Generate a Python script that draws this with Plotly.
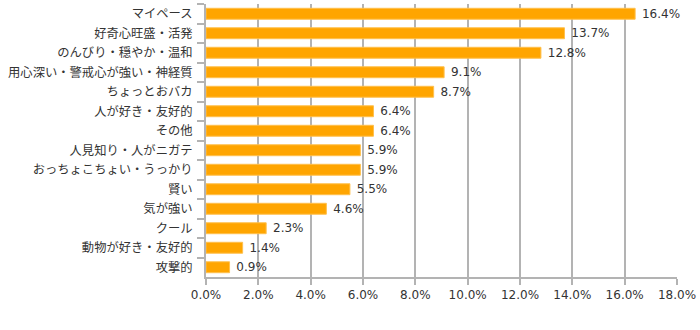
import plotly.graph_objects as go

categories = ["マイペース", "好奇心旺盛・活発", "のんびり・穏やか・温和", "用心深い・警戒心が強い・神経質",
              "ちょっとおバカ", "人が好き・友好的", "その他", "人見知り・人がニガテ",
              "おっちょこちょい・うっかり", "賢い", "気が強い", "クール", "動物が好き・友好的", "攻撃的"]
values = [16.4, 13.7, 12.8, 9.1, 8.7, 6.4, 6.4, 5.9, 5.9, 5.5, 4.6, 2.3, 1.4, 0.9]
x_ticks = [0, 2, 4, 6, 8, 10, 12, 14, 16, 18]
x_tick_labels = [f"{v:.1f}%" for v in x_ticks]
value_labels = [f" {v:.1f}%" for v in values]

FONT = "DejaVu Sans, Noto Sans CJK JP, sans-serif"
GRAY = "#b3b3b3"

fig = go.Figure(go.Bar(
    x=values, y=categories, orientation="h",
    marker=dict(color="#FFA500", line=dict(color="#FFC04D", width=1)),
    text=value_labels, textposition="outside", cliponaxis=False,
    constraintext="none",
    textfont=dict(family=FONT, size=12, color="#333333"),
    width=0.56,
))

fig.update_layout(
    width=700, height=330,
    margin=dict(l=206, r=21, t=4, b=53),
    paper_bgcolor="white", plot_bgcolor="white",
    showlegend=False,
    font=dict(family=FONT, size=12, color="#333333"),
    xaxis=dict(range=[0, 18], tickvals=x_ticks, ticktext=x_tick_labels,
               showgrid=True, gridcolor=GRAY, gridwidth=2,
               showline=True, linecolor=GRAY, linewidth=2,
               ticks="outside", ticklen=6, tickwidth=2, tickcolor=GRAY,
               zeroline=False, tickfont=dict(size=12, color="#333333")),
    yaxis=dict(autorange="reversed", type="category",
               showline=True, linecolor=GRAY, linewidth=2,
               ticks="outside", ticklen=7, tickwidth=2, tickcolor=GRAY,
               tickson="boundaries", showgrid=False, ticklabelstandoff=9,
               tickfont=dict(size=12.3, color="#333333")),
)

fig.write_html("out.html")
